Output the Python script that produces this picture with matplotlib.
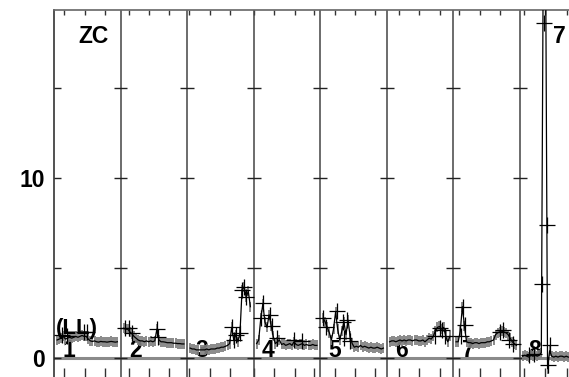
import numpy as np
import matplotlib
matplotlib.use('Agg')
import matplotlib.pyplot as plt

plt.rcParams['font.family'] = ['Liberation Sans', 'DejaVu Sans']

# ---------------- data ----------------
panel_labels = ['1', '2', '3', '4', '5', '6', '7', '8']

p1 = [1.0, 1.05, 1.1, 1.2, 1.05, 1.1, 1.15, 1.1, 1.15, 1.2, 1.15, 1.2, 1.25, 1.2, 1.2,
      1.05, 0.95, 0.92, 0.95, 0.9, 0.88, 0.92, 0.9, 0.9, 0.88, 0.9, 0.92, 0.9, 0.88, 0.9]
p2 = [1.65, 1.6, 1.6, 1.45, 1.35, 1.2, 1.1, 1.0, 0.95, 0.95, 0.9, 0.95, 0.9, 0.95, 0.9,
      0.95, 1.6, 1.0, 0.9, 0.9, 0.88, 0.85, 0.85, 0.85, 0.82, 0.82, 0.8, 0.8, 0.78, 0.78]
p3 = [0.55, 0.5, 0.5, 0.45, 0.45, 0.45, 0.45, 0.45, 0.5, 0.45, 0.5, 0.5, 0.5, 0.55, 0.55,
      0.6, 0.6, 0.65, 0.7, 0.8, 1.7, 1.0, 1.3, 0.9, 1.4, 3.8, 3.95, 3.4, 3.7, 2.85]
p4 = [0.8, 1.0, 2.2, 3.0, 2.0, 1.7, 2.4, 1.8, 1.2, 0.8, 0.9, 1.0, 0.75, 0.8, 0.7,
      0.75, 0.8, 0.7, 0.9, 0.75, 0.7, 0.75, 0.8, 0.7, 0.75, 0.7, 0.7, 0.75, 0.7, 0.7]
p5 = [2.2, 2.0, 1.7, 1.4, 1.0, 1.6, 2.55, 1.6, 1.0, 1.5, 2.0, 1.3, 2.1, 1.2, 0.8,
      0.6, 0.65, 0.6, 0.7, 0.6, 0.65, 0.6, 0.55, 0.6, 0.55, 0.55, 0.6, 0.55, 0.5, 0.55]
p6 = [0.9, 0.95, 0.95, 0.9, 0.95, 1.0, 0.95, 1.0, 0.95, 1.0, 1.0, 0.95, 1.0, 1.0, 0.95,
      0.95, 1.0, 0.9, 1.0, 1.1, 1.05, 1.2, 1.5, 1.7, 1.75, 1.6, 1.7, 1.2, 0.9, 1.2]
p7 = [0.9, 0.9, 1.5, 2.85, 1.8, 0.9, 0.85, 0.85, 0.8, 0.85, 0.85, 0.8, 0.85, 0.85, 0.85,
      0.9, 0.9, 0.95, 1.0, 1.3, 1.4, 1.45, 1.5, 1.45, 1.4, 1.3, 1.1, 0.9, 0.8, 0.7]
p8 = [0.1, 0.15, 0.1, 0.05, 0.15, 0.1, 0.2, 0.1, 0.15, 0.3, 24.0, 24.0, -0.6, 0.4, 0.1,
      0.05, 0.1, 0.05, 0.1, 0.1, 0.05, 0.1, 0.05]
dense_series = [p1, p2, p3, p4, p5, p6, p7, p8]

# sparse large-cross samples: (sample index within panel, value)
big_idx = [
    [2.4, 4.8, 13.0, 14.5],
    [0.5, 2.4, 3.9, 16.0, 16.5],
    [20.0, 21.0, 22.0, 24.0, 25.0, 26.0, 27.0],
    [2.0, 3.0, 6.6, 7.2, 9.7, 17.9, 21.7],
    [0.0, 1.4, 6.6, 9.7, 10.1, 11.6, 13.0],
    [21.7, 24.2, 25.1, 26.6],
    [2.4, 3.4, 4.3, 21.3, 22.7, 25.6, 27.5],
    [2.9, 5.3, 9.1, 10.5, 11.7, 12.4, 13.4],
]
big_val = [
    [1.28, 1.2, 1.45, 1.45],
    [1.65, 1.65, 1.4, 1.6, 1.15],
    [1.7, 1.0, 1.3, 1.4, 3.8, 3.95, 3.4],
    [2.2, 3.05, 2.4, 1.75, 1.1, 1.0, 0.95],
    [2.2, 1.7, 2.6, 2.0, 1.1, 2.1, 0.95],
    [1.2, 1.65, 1.55, 1.2],
    [1.2, 2.85, 1.85, 1.45, 1.55, 1.0, 0.8],
    [0.15, 0.2, 4.1, 18.6, 7.4, -0.4, 0.7],
]

y_ticks = [0, 5, 10, 15]
y_ticklabels = ['0', '', '10', '']

# ---------------- layout ----------------
W, H = 569, 377
PX_PER_PANEL = 66.5
SAMPLES = 32.0
fig = plt.figure(figsize=(W / 100, H / 100), dpi=100)
ax = fig.add_axes([54 / W, 0, (W - 54) / W, (H - 10) / H])
ax.set_xlim(0, (W - 54) / PX_PER_PANEL)
ax.set_ylim(-1.056, 19.33)

# zero line
ax.axhline(0, color='#8a8a8a', lw=2.2, zorder=1)

# panel dividers with cross ticks
for k in range(1, 8):
    ax.axvline(k, color='#444444', lw=1.1, zorder=2)
    ax.hlines(y_ticks, k - 7 / PX_PER_PANEL, k + 7 / PX_PER_PANEL,
              color='#222222', lw=1.0, zorder=2)

# panel numbers
for k, lab in enumerate(panel_labels):
    ax.text(k + 15 / PX_PER_PANEL, 0.05, lab, ha='center', va='baseline',
            fontsize=16.5, fontweight='bold', zorder=2)

# data
for k, vals in enumerate(dense_series):
    j = np.arange(len(vals))
    x = k + (j + 1.5) / SAMPLES
    ax.plot(x, vals, color='#808080', lw=0, marker='|', ms=7.5, mew=1.3, zorder=3)
    ax.plot(x, vals, color='black', lw=0.9, zorder=4)
    bx = k + (np.array(big_idx[k]) + 1.5) / SAMPLES
    ax.plot(bx, big_val[k], color='black', lw=0, marker='+', ms=11, mew=0.9, zorder=5)

# x ticks (top and bottom)
x_tick_px = [64.3, 84.7, 105, 128.7, 149, 169, 189.3, 209.7, 230, 254.3, 274, 295,
             314.3, 335, 355, 375, 399.3, 419.3, 440, 459.3, 480, 500, 524, 545, 566.7]
ax.set_xticks([(p - 54) / PX_PER_PANEL for p in x_tick_px])
ax.set_xticklabels([])
ax.tick_params(axis='x', top=True, bottom=True, direction='in', width=1, color='#333333')
for t in ax.xaxis.get_major_ticks():
    t.tick1line.set_markersize(6.5)
    t.tick2line.set_markersize(3.6)

ax.set_yticks(y_ticks)
ax.set_yticklabels(y_ticklabels, fontsize=16.5, fontweight='bold')
ax.tick_params(axis='y', left=True, right=False, direction='in', length=5,
               width=1, pad=6.5, color='#222222')

for s in ['bottom', 'right']:
    ax.spines[s].set_visible(False)
ax.spines['top'].set_color('#666666')
ax.spines['top'].set_linewidth(1.2)
ax.spines['left'].set_color('#222222')
ax.spines['left'].set_linewidth(1.1)

# annotations
fig.text(78 / W, 1 - 43 / H, 'ZC', ha='left', va='baseline', fontsize=16.5, fontweight='bold')
fig.text(553 / W, 1 - 43 / H, '7', ha='left', va='baseline', fontsize=16.5, fontweight='bold')
fig.text(56 / W, 1 - 334 / H, '(LL)', ha='left', va='baseline', fontsize=16,
         fontweight='bold', zorder=6)

fig.savefig('out.png', dpi=100)
